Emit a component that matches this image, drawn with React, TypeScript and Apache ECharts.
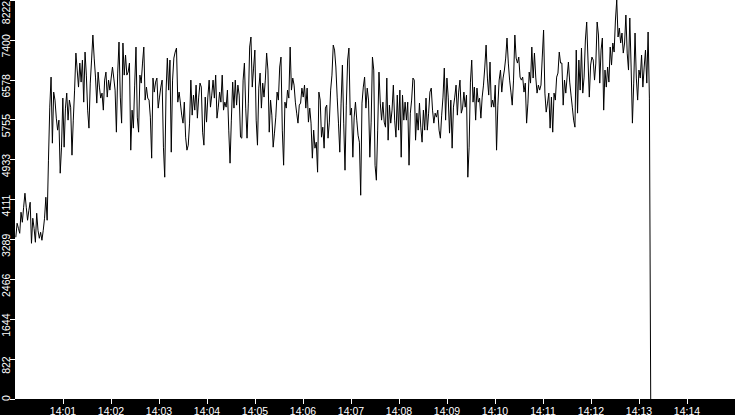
import { useEffect, useRef } from 'react';
import * as echarts from 'echarts';

// samples start at 14:00:01, one every ~1.633 s
const START_SEC = 1;
const SAMPLE_SEC = 1.633;

const values = [
  3333, 3622, 3518, 3415, 3849, 3642, 3952, 4241, 3952, 3684,
  3890, 4055, 3209, 3725, 3518, 3230, 3828, 3477, 3312, 3436,
  3271, 3477, 3725, 4158, 3684, 4922, 6015, 6634, 5272, 6325,
  6160, 5788, 5541, 5747, 4653, 5190, 6201, 5190, 5995, 6304,
  5747, 6160, 6015, 5025, 5747, 6366, 7129, 6779, 6428, 6923,
  6531, 6985, 6118, 7150, 6675, 5953, 5582, 6510, 6985, 7501,
  7026, 6634, 6098, 6737, 6428, 6201, 6304, 5953, 6572, 6737,
  6222, 6572, 6366, 6614, 6841, 6614, 6366, 5499, 6717, 7356,
  6222, 5685, 7336, 6675, 7088, 6675, 6737, 6923, 5128, 5953,
  5582, 6469, 7253, 5809, 5499, 6675, 6510, 6923, 7253,
  6160, 6428, 6201, 6160, 5809, 4963, 6614, 6325, 6531, 6614,
  5995, 6222, 6428, 6572, 5190, 4571, 6325, 7026, 6366, 6985,
  5087, 6572, 7026, 7150, 7233, 6118, 6325, 6098, 5850, 5685,
  6118, 5396, 5128, 5231, 5685, 6572, 5850, 6263, 5953, 6469,
  5788, 6222, 6510, 6428, 5499, 5231, 6222, 5706, 6222, 6572,
  6015, 6263, 6572, 6201, 6675, 5788, 6015, 6325, 6118, 6675,
  5953, 6118, 6015, 6366, 5541, 4860, 5747, 6531, 5995, 6572,
  6056, 6469, 6263, 5396, 5375, 6572, 6923, 5995, 5375, 6098,
  7253, 7460, 6428, 6820, 7191, 5747, 5231, 6407, 6717, 5995,
  6510, 6222, 6572, 7129, 6779, 5499, 6160, 5850,
  5190, 5479, 5809, 6325, 6160, 6841, 7047, 5541, 4818, 6118,
  5995, 6366, 6201, 7253, 6366, 6614, 6469, 6118, 5891, 5685,
  6056, 6098, 6407, 6222, 6469, 5995, 6407, 5706, 5995, 5685,
  4963, 5541, 5169, 5293, 4674, 6325, 6160, 5396, 5602, 5169,
  5995, 6056, 5375, 5706, 6366, 6675, 7294, 7191, 6841, 6222,
  5685, 5087, 6098, 6882, 5685, 4715, 6056, 6985, 7233, 5850,
  5995, 4983, 5809, 6118, 5747, 5437, 5293, 4199, 6098, 6428,
  6634, 5995, 6407, 6160, 4983, 5706, 7047, 6779, 4818, 4509,
  5541, 6737, 6098, 5747, 6118, 5706, 5602, 6614, 5334, 6056,
  5685, 5953, 6469, 5747, 5396, 6263, 5541, 6366,
  4983, 6263, 5747, 6118, 5747, 6118, 4818, 5891, 6160, 6614,
  6572, 5334, 5891, 5541, 6098, 5602, 5293, 5953, 5541, 6201,
  5541, 5891, 6325, 6407, 5953, 5685, 5891, 5809, 5953, 5541,
  5375, 5850, 6222, 6820, 5747, 6614, 6222, 5479, 6160, 5169,
  6015, 6222, 6469, 5850, 6325, 6572, 5891, 5995, 6325, 6015,
  6263, 4571, 5190, 6531, 6985, 6118, 6428, 5747, 6407, 6118,
  6201, 5788, 6222, 6469, 6841, 7294, 6614, 6263, 6944, 6015,
  6160, 6015, 6469, 5128, 6056, 6572, 6779, 6325, 6614, 6779,
  7026, 7439, 6923, 6572, 6325, 6056, 6572, 7501, 7026, 6923,
  7047, 6634, 6572, 6634, 6325,
  6510, 5685, 6098, 6737, 6510, 7253, 6614, 7129, 6634, 6304,
  6469, 6366, 6469, 7047, 7604, 6304, 5912, 6098, 6304, 5582,
  6222, 5499, 6304, 6160, 6634, 6717, 7150, 6923, 6923, 6056,
  6572, 6304, 6634, 6944, 6531, 6263, 6015, 5747, 5602, 7191,
  5891, 6985, 6366, 7233, 6304, 6634, 7398, 7769, 6985, 6222,
  6882, 7047, 6985, 6572, 6923, 7769, 7501, 6510, 7191, 7439,
  5953, 6779, 6428, 6841, 6531, 7253, 6882, 7336, 7150, 7810,
  8222, 7460, 7645, 7336, 7542, 7129, 7336, 7913, 7129, 6779,
  7852, 6841, 5685, 6510, 7542, 6614, 6160, 6779, 6614, 7088,
  6428, 6841, 7191, 6510, 7563, 6201, 0,
];

const Y_MAX = 8222.7;
const Y_STEP = 822.27;
const Y_TICK_LABELS = ['0', '822', '1644', '2466', '3289', '4111', '4933', '5755', '6578', '7400', '8222'];

const X_MAX_SEC = 900;
const X_TICK_LABELS = [
  '14:00', '14:01', '14:02', '14:03', '14:04', '14:05', '14:06', '14:07',
  '14:08', '14:09', '14:10', '14:11', '14:12', '14:13', '14:14', '14:15',
];

const FONT = '"Liberation Sans", Arial, sans-serif';

export default function App() {
  const chartRef = useRef<HTMLDivElement>(null);

  useEffect(() => {
    if (!chartRef.current) return;
    const chart = echarts.init(chartRef.current, undefined, { renderer: 'svg' });

    const points = values.map((v, i) => [START_SEC + i * SAMPLE_SEC, v]);
    const lastIdx = Y_TICK_LABELS.length - 1;

    chart.setOption({
      animation: false,
      backgroundColor: '#000',
      grid: {
        left: 15,
        right: 0,
        top: 0,
        bottom: 16,
        show: true,
        backgroundColor: '#fff',
        borderWidth: 0,
        outerBoundsMode: 'none',
        containLabel: false,
      },
      xAxis: {
        type: 'value',
        min: 0,
        max: X_MAX_SEC,
        interval: 60,
        axisLine: { show: false },
        axisTick: { show: true, length: 5, lineStyle: { color: '#fff', width: 1 } },
        splitLine: { show: false },
        axisLabel: {
          color: '#fff',
          fontFamily: FONT,
          fontSize: 10.5,
          margin: 6,
          showMinLabel: false,
          showMaxLabel: false,
          formatter: (v: number) => X_TICK_LABELS[Math.round(v / 60)] ?? '',
        },
      },
      yAxis: {
        type: 'value',
        min: 0,
        max: Y_MAX,
        interval: Y_STEP,
        axisLine: { show: false },
        axisTick: { show: true, length: 5, lineStyle: { color: '#fff', width: 1 } },
        splitLine: { show: false },
        axisLabel: {
          rotate: 90,
          margin: 4,
          color: '#fff',
          fontFamily: FONT,
          fontSize: 10.5,
          formatter: (v: number) => {
            const idx = Math.round(v / Y_STEP);
            const label = Y_TICK_LABELS[idx] ?? '';
            if (idx === 0) return `{z|${label}}`;
            if (idx === lastIdx) return `{t|${label}}`;
            return `{n|${label}}`;
          },
          rich: {
            n: { color: '#fff', fontFamily: FONT, fontSize: 10.5, padding: [0, 12, 0, 0] },
            z: { color: '#fff', fontFamily: FONT, fontSize: 10.5, padding: [0, 0, 0, 2] },
            t: { color: '#fff', fontFamily: FONT, fontSize: 10.5, padding: [0, 25, 0, 0] },
          },
        },
      },
      series: [
        {
          type: 'line',
          data: points,
          showSymbol: false,
          symbol: 'none',
          lineStyle: { color: '#000', width: 1 },
          itemStyle: { color: '#000' },
        },
      ],
    });

    return () => {
      chart.dispose();
    };
  }, []);

  return (
    <div
      ref={chartRef}
      style={{ position: 'absolute', left: 0, top: 0, width: 735, height: 415 }}
    />
  );
}
